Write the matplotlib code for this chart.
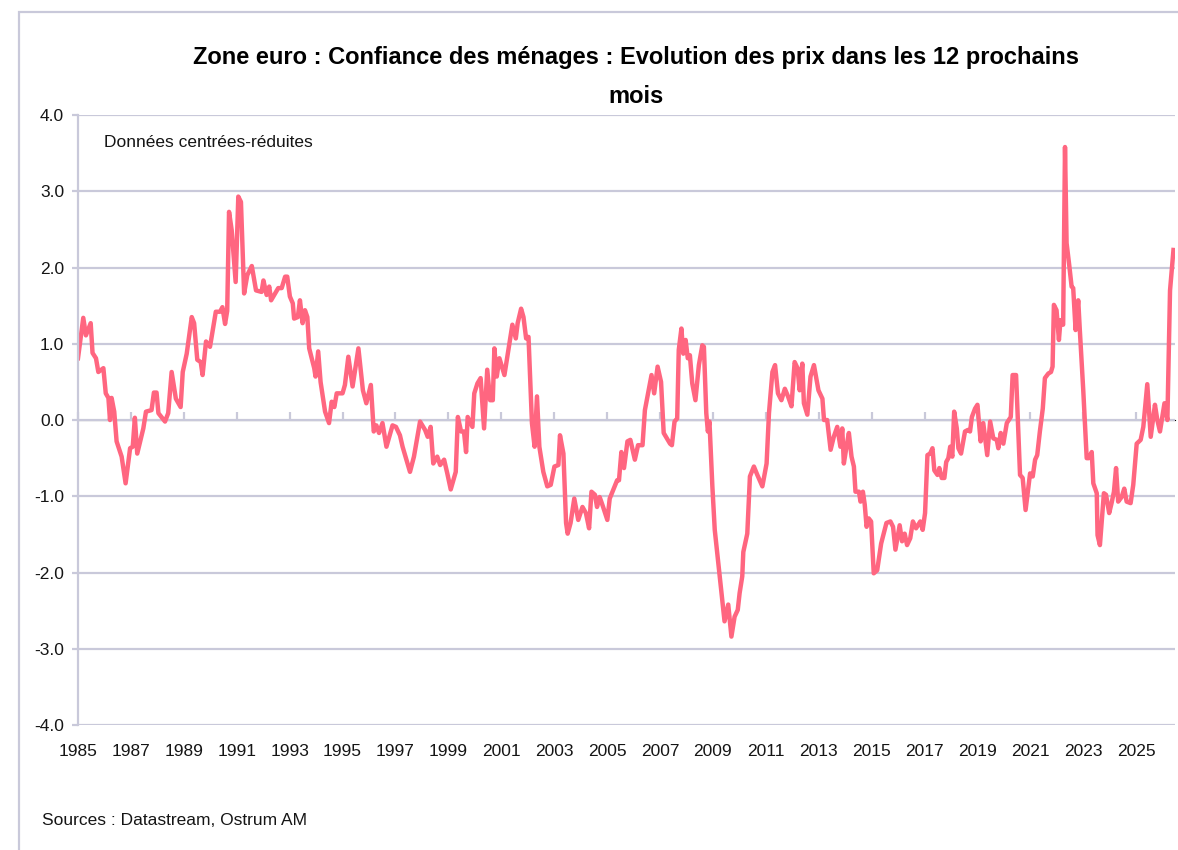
import matplotlib
matplotlib.use("Agg")
import matplotlib.pyplot as plt
from matplotlib.patches import Rectangle
from matplotlib.ticker import NullFormatter

# Zone euro : confiance des menages, prix attendus a 12 mois (donnees centrees-reduites)
dates = [
    1985.00, 1985.20, 1985.30, 1985.48, 1985.55, 1985.68, 1985.77, 1985.96,
    1986.05, 1986.15, 1986.21, 1986.27, 1986.37, 1986.46, 1986.65, 1986.80, 1986.97,
    1987.07, 1987.15, 1987.24, 1987.47, 1987.57, 1987.78, 1987.87, 1987.97,
    1988.04, 1988.29, 1988.41, 1988.54, 1988.70, 1988.88, 1988.96,
    1989.11, 1989.30, 1989.39, 1989.51, 1989.64, 1989.71, 1989.84, 1989.99,
    1990.21, 1990.37, 1990.46, 1990.56, 1990.64, 1990.71, 1990.81, 1990.96,
    1991.06, 1991.16, 1991.28, 1991.40, 1991.57, 1991.73, 1991.94,
    1992.01, 1992.13, 1992.23, 1992.30, 1992.57, 1992.70, 1992.83, 1992.91,
    1993.01, 1993.12, 1993.17, 1993.31, 1993.39, 1993.49, 1993.58, 1993.67, 1993.74, 1993.93, 1993.98,
    1994.08, 1994.17, 1994.34, 1994.49, 1994.59, 1994.69, 1994.78,
    1995.00, 1995.09, 1995.22, 1995.38, 1995.60, 1995.77, 1995.90,
    1996.07, 1996.18, 1996.28, 1996.38, 1996.51, 1996.66, 1996.89,
    1997.02, 1997.17, 1997.27, 1997.55, 1997.70, 1997.93,
    1998.12, 1998.22, 1998.33, 1998.43, 1998.58, 1998.69, 1998.84, 1998.96,
    1999.09, 1999.28, 1999.36, 1999.48, 1999.59, 1999.67, 1999.73, 1999.91, 1999.98,
    2000.10, 2000.22, 2000.35, 2000.47, 2000.58, 2000.68, 2000.74, 2000.83, 2000.93,
    2001.12, 2001.27, 2001.42, 2001.55, 2001.62, 2001.75, 2001.84, 2001.94,
    2002.03, 2002.16, 2002.26, 2002.35, 2002.44, 2002.59, 2002.74, 2002.87,
    2003.01, 2003.16, 2003.22, 2003.35, 2003.45, 2003.51, 2003.62, 2003.76, 2003.91,
    2004.07, 2004.20, 2004.32, 2004.41, 2004.54, 2004.62, 2004.72, 2004.85,
    2005.01, 2005.10, 2005.25, 2005.38, 2005.45, 2005.54, 2005.64, 2005.77, 2005.88,
    2006.05, 2006.17, 2006.34, 2006.43, 2006.68, 2006.78, 2006.91,
    2007.04, 2007.14, 2007.38, 2007.45, 2007.55, 2007.65, 2007.71, 2007.81, 2007.88, 2007.97,
    2008.05, 2008.13, 2008.22, 2008.34, 2008.47, 2008.60, 2008.66, 2008.75, 2008.81, 2008.87, 2008.98,
    2009.07, 2009.26, 2009.44, 2009.58, 2009.70, 2009.82, 2009.94,
    2010.01, 2010.11, 2010.15, 2010.30, 2010.40, 2010.55, 2010.68, 2010.87,
    2011.03, 2011.12, 2011.25, 2011.35, 2011.46, 2011.59, 2011.72, 2011.84, 2011.97,
    2012.09, 2012.20, 2012.28, 2012.38, 2012.44, 2012.57, 2012.69, 2012.82, 2012.99,
    2013.14, 2013.20, 2013.32, 2013.45, 2013.57, 2013.70, 2013.82, 2013.89, 2013.95,
    2014.05, 2014.14, 2014.24, 2014.33, 2014.39, 2014.52, 2014.58, 2014.67, 2014.74, 2014.81, 2014.89, 2014.98,
    2015.08, 2015.21, 2015.36, 2015.56, 2015.71, 2015.81, 2015.90,
    2016.06, 2016.15, 2016.25, 2016.34, 2016.46, 2016.56, 2016.68, 2016.84, 2016.93,
    2017.02, 2017.11, 2017.21, 2017.30, 2017.37, 2017.49, 2017.56, 2017.65, 2017.75, 2017.82, 2017.90, 2017.97,
    2018.05, 2018.12, 2018.22, 2018.28, 2018.38, 2018.53, 2018.64, 2018.72, 2018.79, 2018.91,
    2019.00, 2019.12, 2019.22, 2019.37, 2019.48, 2019.60, 2019.73, 2019.79, 2019.88, 2019.98,
    2020.11, 2020.26, 2020.33, 2020.46, 2020.61, 2020.71, 2020.82, 2020.99,
    2021.09, 2021.18, 2021.26, 2021.36, 2021.47, 2021.55, 2021.68, 2021.78, 2021.84, 2021.89, 2021.99,
    2022.08, 2022.14, 2022.24, 2022.31, 2022.37, 2022.47, 2022.56, 2022.62, 2022.71, 2022.81, 2022.87,
    2023.00, 2023.13, 2023.21, 2023.32, 2023.38, 2023.51, 2023.54, 2023.63, 2023.70, 2023.78, 2023.86, 2023.98,
    2024.07, 2024.16, 2024.24, 2024.32, 2024.45, 2024.55, 2024.64, 2024.79, 2024.89,
    2025.02, 2025.17, 2025.27, 2025.42, 2025.55, 2025.71, 2025.80, 2025.90,
    2026.07, 2026.18, 2026.28, 2026.41,
]
valeurs = [
    0.81, 1.34, 1.11, 1.27, 0.88, 0.81, 0.63, 0.68,
    0.35, 0.29, 0.00, 0.29, 0.11, -0.28, -0.48, -0.83, -0.37,
    -0.35, 0.03, -0.44, -0.11, 0.11, 0.13, 0.36, 0.36,
    0.09, -0.02, 0.09, 0.63, 0.28, 0.17, 0.63,
    0.87, 1.35, 1.27, 0.79, 0.76, 0.59, 1.03, 0.96,
    1.42, 1.42, 1.48, 1.26, 1.43, 2.73, 2.49, 1.81,
    2.93, 2.86, 1.66, 1.90, 2.02, 1.70, 1.68,
    1.83, 1.64, 1.75, 1.57, 1.73, 1.73, 1.88, 1.88,
    1.62, 1.53, 1.33, 1.35, 1.57, 1.27, 1.44, 1.35, 0.94, 0.68, 0.57,
    0.90, 0.50, 0.11, -0.04, 0.24, 0.17, 0.35,
    0.35, 0.46, 0.83, 0.44, 0.94, 0.39, 0.22,
    0.46, -0.15, -0.07, -0.17, -0.04, -0.35, -0.07,
    -0.09, -0.20, -0.35, -0.68, -0.48, -0.02,
    -0.13, -0.22, -0.09, -0.57, -0.48, -0.59, -0.52, -0.70,
    -0.91, -0.68, 0.04, -0.15, -0.15, -0.42, 0.04, -0.09, 0.35,
    0.48, 0.55, -0.11, 0.66, 0.26, 0.26, 0.94, 0.57, 0.81,
    0.59, 0.92, 1.25, 1.07, 1.27, 1.46, 1.35, 1.07,
    1.09, -0.04, -0.35, 0.31, -0.35, -0.68, -0.87, -0.85,
    -0.61, -0.59, -0.20, -0.44, -1.35, -1.49, -1.35, -1.03, -1.31,
    -1.14, -1.22, -1.42, -0.94, -0.98, -1.14, -1.01, -1.14,
    -1.31, -1.03, -0.90, -0.79, -0.79, -0.42, -0.63, -0.28, -0.26,
    -0.52, -0.33, -0.33, 0.13, 0.59, 0.35, 0.70,
    0.50, -0.17, -0.31, -0.33, -0.02, 0.02, 0.92, 1.20, 0.87, 1.05,
    0.81, 0.85, 0.48, 0.26, 0.72, 0.98, 0.96, 0.09, -0.15, -0.02, -0.87,
    -1.44, -2.05, -2.64, -2.42, -2.84, -2.58, -2.49,
    -2.27, -2.05, -1.73, -1.49, -0.74, -0.61, -0.72, -0.87,
    -0.57, 0.09, 0.63, 0.72, 0.35, 0.26, 0.41, 0.31, 0.18,
    0.76, 0.68, 0.39, 0.74, 0.22, 0.07, 0.57, 0.72, 0.39,
    0.28, 0.00, 0.00, -0.39, -0.22, -0.09, -0.35, -0.11, -0.57,
    -0.35, -0.17, -0.48, -0.61, -0.94, -0.94, -1.07, -0.94, -1.11, -1.40, -1.29, -1.33,
    -2.01, -1.97, -1.62, -1.35, -1.33, -1.40, -1.70,
    -1.38, -1.59, -1.49, -1.64, -1.55, -1.33, -1.42, -1.33, -1.44,
    -1.22, -0.46, -0.44, -0.37, -0.66, -0.72, -0.63, -0.76, -0.76, -0.55, -0.50, -0.35,
    -0.48, 0.11, -0.11, -0.37, -0.44, -0.15, -0.13, -0.15, 0.04, 0.15,
    0.20, -0.28, -0.04, -0.46, -0.02, -0.24, -0.26, -0.37, -0.17, -0.31,
    -0.04, 0.04, 0.59, 0.59, -0.72, -0.76, -1.18, -0.70,
    -0.74, -0.52, -0.46, -0.15, 0.15, 0.55, 0.61, 0.63, 0.70, 1.51, 1.44,
    1.05, 1.31, 1.25, 3.58, 2.32, 2.03, 1.75, 1.73, 1.18, 1.57, 1.18,
    0.39, -0.50, -0.50, -0.42, -0.83, -0.96, -1.51, -1.64, -1.33, -0.96, -0.98, -1.22,
    -1.09, -0.94, -0.63, -1.07, -1.01, -0.90, -1.07, -1.09, -0.85,
    -0.31, -0.26, -0.09, 0.47, -0.22, 0.20, 0.00, -0.15,
    0.22, 0.00, 1.70, 2.23,
]

annees = list(range(1985, 2026, 2))
graduations = [-4.0, -3.0, -2.0, -1.0, 0.0, 1.0, 2.0, 3.0, 4.0]

titre = "Zone euro : Confiance des ménages : Evolution des prix dans les 12 prochains\nmois"
note = "Données centrées-réduites"
source = "Sources : Datastream, Ostrum AM"

plt.rcParams["font.family"] = ["Liberation Sans", "DejaVu Sans"]
plt.rcParams["axes.unicode_minus"] = False

gris = "#C9C9DA"
rose = "#FF6680"
encre = "#151515"

fig = plt.figure(figsize=(11.78, 8.5), dpi=100)
ax = fig.add_axes([0.0662, 0.147, 0.9313, 0.7177])

ax.plot(dates, valeurs, color=rose, linewidth=3.2, solid_joinstyle="round")

ax.set_xlim(1985, 2026.47)
ax.set_ylim(-4, 4)
ax.set_yticks(graduations)
ax.set_yticklabels(["%.1f" % g for g in graduations])
ax.set_xticks(annees)
ax.set_xticklabels([str(a) for a in annees])

ax.grid(axis="y", color=gris, linewidth=1.6)
ax.set_axisbelow(True)
for s in ["top", "right", "bottom"]:
    ax.spines[s].set_visible(False)
ax.spines["left"].set_color(gris)
ax.spines["left"].set_linewidth(1.6)

ax.tick_params(axis="y", length=4, width=1.6, color=gris, pad=6, labelsize=12.5, labelcolor=encre)
ax.tick_params(axis="x", length=0, pad=14, labelsize=12.5, labelcolor=encre)

# axe horizontal qui croise en 0, avec ses graduations
ax0 = ax.secondary_xaxis(0.5)
ax0.set_xticks(annees)
ax0.xaxis.set_major_formatter(NullFormatter())
ax0.tick_params(axis="x", length=6, width=1.6, color=gris)
ax0.spines["bottom"].set_color(gris)
ax0.spines["bottom"].set_linewidth(1.6)

ax.text(0.024, 0.955, note, transform=ax.transAxes, fontsize=12.5, va="center", ha="left", color=encre)

fig.text(0.54, 0.9095, titre, ha="center", va="center", fontsize=17, fontweight="bold",
         linespacing=1.85, color="black")
fig.text(0.036, 0.035, source, ha="left", va="center", fontsize=12.5, color=encre)

# cadre du graphique
fig.patches.append(Rectangle((19 / 1178, -0.1), 1.2, 1.1 - 12 / 850, transform=fig.transFigure,
                             fill=False, edgecolor=gris, linewidth=1.6))

fig.savefig("out.png", dpi=100)
